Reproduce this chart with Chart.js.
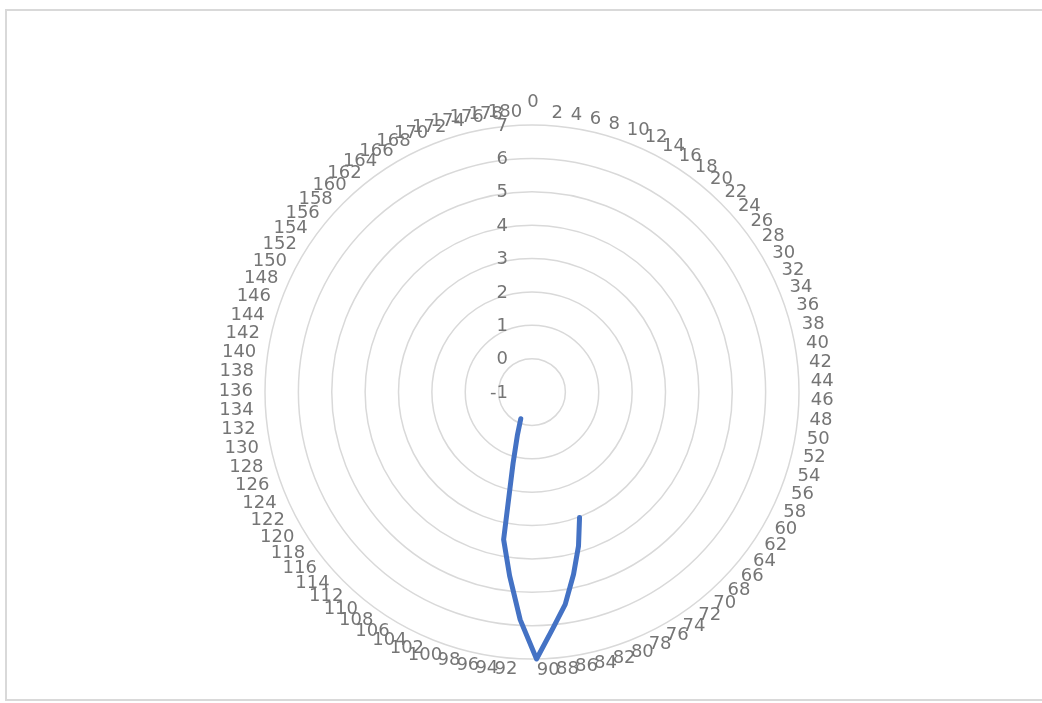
<!DOCTYPE html>
<html>
<head>
<meta charset="utf-8">
<script src="https://cdn.jsdelivr.net/npm/chart.js@4.4.1/dist/chart.umd.min.js"></script>
<style>
  html, body { margin: 0; padding: 0; background: #fff; }
  #frame {
    position: absolute; left: 5px; top: 9px; width: 1040px; height: 692px;
    border: 2px solid #d9d9d9; box-sizing: border-box;
  }
  #radarChart { position: absolute; left: 0; top: 0; }
</style>
</head>
<body>
<div id="frame"></div>
<canvas id="radarChart" width="1042" height="703"></canvas>
<script>
const categories = [
  '0', '2', '4', '6', '8', '10', '12', '14', '16', '18',
  '20', '22', '24', '26', '28', '30', '32', '34', '36', '38',
  '40', '42', '44', '46', '48', '50', '52', '54', '56', '58',
  '60', '62', '64', '66', '68', '70', '72', '74', '76', '78',
  '80', '82', '84', '86', '88', '90', '92', '94', '96', '98',
  '100', '102', '104', '106', '108', '110', '112', '114', '116', '118',
  '120', '122', '124', '126', '128', '130', '132', '134', '136', '138',
  '140', '142', '144', '146', '148', '150', '152', '154', '156', '158',
  '160', '162', '164', '166', '168', '170', '172', '174', '176', '178',
  '180',
];

// only the points around 80..102 carry a value, the rest are blank cells
const seriesValues = [
  null, null, null, null, null, null, null, null, null, null,
  null, null, null, null, null, null, null, null, null, null,
  null, null, null, null, null, null, null, null, null, null,
  null, null, null, null, null, null, null, null, null, null,
  3.02, 3.82, 4.6, 5.44, 6.13, 7.0, 5.83, 4.55, 3.5, 1.22,
  0.35, -0.13, null, null, null, null, null, null, null, null,
  null, null, null, null, null, null, null, null, null, null,
  null, null, null, null, null, null, null, null, null, null,
  null, null, null, null, null, null, null, null, null, null,
  null,
];

const radialTicks = ['-1', '0', '1', '2', '3', '4', '5', '6', '7'];

const textGray = '#757575';
const labelFont = '18px "DejaVu Sans"';

// value labels sit left of the vertical axis; category labels are
// left/right aligned on their ring point like Excel does it
const excelLabels = {
  id: 'excelLabels',
  afterDatasetsDraw(chart) {
    const scale = chart.scales.r;
    const c = chart.ctx;
    c.save();
    c.font = labelFont;
    c.fillStyle = textGray;
    c.textBaseline = 'middle';

    c.textAlign = 'right';
    radialTicks.forEach(t => {
      const d = scale.getDistanceFromCenterForValue(Number(t));
      c.fillText(t, scale.xCenter - 24, scale.yCenter - d + 1);
    });

    categories.forEach((lab, i) => {
      const a = scale.getIndexAngle(i);
      const p = scale.getPointPosition(i, scale.drawingArea + 12);
      const nudge = 4.5 * Math.max(Math.cos(a), 0);
      if (i === 0) {
        c.textAlign = 'center';
        c.fillText(lab, scale.xCenter + 1, p.y - 11);
      } else if (Math.sin(a) > 0) {
        c.textAlign = 'left';
        c.fillText(lab, p.x - nudge, p.y - 1);
      } else {
        c.textAlign = 'right';
        c.fillText(lab, p.x + nudge, p.y - 1);
      }
    });
    c.restore();
  },
};

const chart = new Chart(document.getElementById('radarChart'), {
  type: 'radar',
  data: {
    labels: categories,
    datasets: [
      {
        label: 'series1',
        data: seriesValues,
        borderColor: '#4472c4',
        backgroundColor: '#4472c4',
        borderWidth: 5,
        borderJoinStyle: 'round',
        borderCapStyle: 'round',
        pointRadius: 0,
        pointHoverRadius: 0,
        fill: false,
        spanGaps: false,
      },
    ],
  },
  options: {
    responsive: false,
    animation: false,
    layout: {
      padding: { left: 265, right: 243, top: 125, bottom: 44 },
    },
    plugins: {
      legend: { display: false },
      tooltip: { enabled: false },
    },
    scales: {
      r: {
        min: -1,
        max: 7,
        startAngle: 1,
        ticks: { stepSize: 1, display: false },
        grid: { circular: true, color: '#d9d9d9', lineWidth: 1.5 },
        angleLines: { display: false },
        pointLabels: { display: false },
      },
    },
  },
  plugins: [excelLabels],
});
</script>
</body>
</html>
